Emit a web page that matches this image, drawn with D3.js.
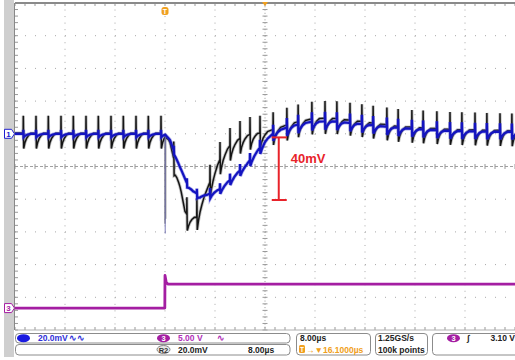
<!DOCTYPE html>
<html>
<head>
<meta charset="utf-8">
<script src="https://cdn.jsdelivr.net/npm/d3@7"></script>
<style>
  body { margin: 0; background: #fff; }
  svg { display: block; }
  text { font-family: "Liberation Sans", Arial, sans-serif; }
</style>
</head>
<body>
<div id="chart"></div>
<script>
// horizontal: 8 us/div, 10 div, trigger (t = 0) two div left of centre
const timeDomain = [-24, 56];
const timePerDiv = 8;
const divDomain = [-5, 5];
// channel settings
const ch1PerDiv = 20;     // mV/div
const ch1Offset = 1;      // div above centre
const ch3PerDiv = 5;      // V/div
const ch3Offset = -4.33;  // div

// converter switching spikes (us)
const spikeTimes = [-22.67, -20.64, -18.67, -16.64, -14.67, -12.64, -10.67, -8.64, -6.67, -4.64, -2.67, -0.64,
  1.4, 3.5, 5.1, 7.2, 8.8, 10.4, 12.0, 13.6, 15.2, 17.3, 19.5, 21.3, 23.5, 25.6, 27.5, 29.6, 31.5, 33.3,
  35.5, 37.3, 39.5, 41.3, 43.5, 45.6, 47.5, 49.6, 51.5, 53.6, 55.5];

// mean output voltage, channel 1 (us, mV)
const ch1Envelope = [[-24, 0], [0, 0], [0.8, -3.8], [2.4, -20.3], [3.5, -30.1], [4.5, -35], [5.6, -38],
  [6.7, -37.4], [8.8, -33.8], [10.9, -26.4], [13.1, -18.5], [14.9, -9.9], [16.0, -4.4], [17.6, 1.2],
  [20, 4.5], [23.2, 7.2], [26.4, 7.8], [31.2, 6], [37.6, 3.5], [45.6, 1.7], [56, 1.1]];
// mean output voltage, reference R2 (us, mV)
const r2Envelope = [[-24, 0], [0, 0], [0.8, -5.6], [1.6, -19], [2.4, -32], [3.2, -48], [3.7, -51],
  [5.0, -51.5], [5.6, -45], [7.2, -30], [8.8, -16], [10.4, -7.5], [12, -3.2], [13.6, -0.7], [16, 0.5],
  [18.4, 3.5], [20.8, 6.5], [24, 9], [27.2, 9], [31.2, 7.2], [37.6, 4], [45.6, 2.3], [56, 1.4]];

// ripple shape after each switching spike (us after spike, mV)
const ch1Ripple = [[0, 4], [0.05, -3.5], [0.3, -2], [0.7, -0.7], [1.2, 0]];
const r2Ripple = [[0, 11], [0.06, -9], [0.25, -5.5], [0.5, -3], [0.8, -1.2], [1.2, 0.3], [1.9, 0.5]];
// ripple size over time (us, gain)
const ch1RippleGain = [[-24, 0.6], [0, 0.6], [12, 1.0], [20, 1.5], [56, 1.3]];
const r2RippleGain = [[-24, 1], [56, 1]];

// load-step glitches at trigger (us, mV)
const ch1Glitch = [[0.03, -61]];
const r2Glitch = [[0.0, -55], [0.12, -52]];

// channel 3, load step (us, V)
const ch3Trace = [[-24, 0], [-0.03, 0], [0, 5.0], [0.2, 3.9], [0.5, 3.67], [56, 3.67]];

// 40 mV marker (us, mV)
const markT = 18.2;
const markRange = [-2.2, -40.5];
const markLabel = "40mV";

// readouts
const ch1Label = "20.0mV", ch3Label = "5.00 V", refLabel = "20.0mV", refTime = "8.00µs";
const hLabel = "8.00µs", delayLabel = "→▼16.1000µs";
const rateLabel = "1.25GS/s", pointsLabel = "100k points";
const trigLabel = "3.10 V";

const W = 515, H = 360;
const pLeft = 15, pRight = 515, pTop = 3, pBottom = 330;

const svg = d3.select("#chart").append("svg").attr("width", W).attr("height", H);
svg.append("rect").attr("width", W).attr("height", H).attr("fill", "#fff");

const x = d3.scaleLinear().domain(timeDomain).range([pLeft, pRight]);
const yDiv = d3.scaleLinear().domain(divDomain).range([pBottom, pTop]);
const y1 = d3.scaleLinear()
  .domain(divDomain.map(d => (d - ch1Offset) * ch1PerDiv)).range([pBottom, pTop]);
const y3 = d3.scaleLinear()
  .domain(divDomain.map(d => (d - ch3Offset) * ch3PerDiv)).range([pBottom, pTop]);

// left grey strip
svg.append("rect").attr("x", 4).attr("y", 0).attr("width", 10).attr("height", 357).attr("fill", "#cfcfcf");

// graticule
const grid = svg.append("g");
const centreT = (timeDomain[0] + timeDomain[1]) / 2;
const majorT = d3.range(timeDomain[0] + timePerDiv, timeDomain[1], timePerDiv);
const majorD = d3.range(divDomain[0] + 1, divDomain[1]);
const minorT = d3.range(timeDomain[0], timeDomain[1] + 0.01, timePerDiv / 5);
const minorD = d3.range(divDomain[0], divDomain[1] + 0.01, 0.2);

grid.selectAll(".vg").data(majorT.filter(t => t !== centreT)).join("line")
  .attr("x1", d => x(d)).attr("x2", d => x(d)).attr("y1", pTop).attr("y2", pBottom)
  .attr("stroke", "#a8a8a8").attr("stroke-width", 1)
  .attr("stroke-dasharray", `1,${(pBottom - pTop) / 50 - 1}`);
grid.selectAll(".hg").data(majorD.filter(d => d !== 0)).join("line")
  .attr("y1", d => yDiv(d)).attr("y2", d => yDiv(d)).attr("x1", pLeft).attr("x2", pRight)
  .attr("stroke", "#a8a8a8").attr("stroke-width", 1)
  .attr("stroke-dasharray", "1,9");
// centre cross
grid.append("line").attr("x1", x(centreT)).attr("x2", x(centreT)).attr("y1", pTop).attr("y2", pBottom)
  .attr("stroke", "#9a9a9a").attr("stroke-dasharray", "1,2.27");
grid.append("line").attr("y1", yDiv(0)).attr("y2", yDiv(0)).attr("x1", pLeft).attr("x2", pRight)
  .attr("stroke", "#a0a0a0").attr("stroke-dasharray", "3,2");
grid.selectAll(".ct").data(minorD).join("line")
  .attr("x1", x(centreT) - 2.5).attr("x2", x(centreT) + 2.5)
  .attr("y1", d => yDiv(d)).attr("y2", d => yDiv(d)).attr("stroke", "#999");
grid.selectAll(".ch").data(minorT).join("line")
  .attr("y1", yDiv(0) - 2.5).attr("y2", yDiv(0) + 2.5)
  .attr("x1", d => x(d)).attr("x2", d => x(d)).attr("stroke", "#999");
// border ticks
grid.selectAll(".tt").data(minorT).join("line")
  .attr("x1", d => x(d)).attr("x2", d => x(d)).attr("y1", pTop).attr("y2", pTop + 3).attr("stroke", "#999");
grid.selectAll(".bt").data(minorT).join("line")
  .attr("x1", d => x(d)).attr("x2", d => x(d)).attr("y1", pBottom - 3).attr("y2", pBottom).attr("stroke", "#999");
grid.selectAll(".lt").data(minorD).join("line")
  .attr("x1", pLeft).attr("x2", pLeft + 3).attr("y1", d => yDiv(d)).attr("y2", d => yDiv(d)).attr("stroke", "#999");
grid.append("line").attr("x1", pLeft).attr("x2", pRight).attr("y1", pTop).attr("y2", pTop)
  .attr("stroke", "#8a8a8a").attr("stroke-width", 2);
grid.append("line").attr("x1", pLeft).attr("x2", pRight).attr("y1", pBottom).attr("y2", pBottom)
  .attr("stroke", "#b0b0b0").attr("stroke-width", 1);
grid.append("line").attr("x1", pLeft - 0.5).attr("x2", pLeft - 0.5).attr("y1", pTop).attr("y2", pBottom)
  .attr("stroke", "#888").attr("stroke-width", 1);

// traces
svg.append("clipPath").attr("id", "plot").append("rect")
  .attr("x", pLeft).attr("y", pTop).attr("width", pRight - pLeft).attr("height", pBottom - pTop);
const traces = svg.append("g").attr("clip-path", "url(#plot)");

const piecewise = pts => d3.scaleLinear().domain(pts.map(d => d[0])).range(pts.map(d => d[1])).clamp(true);

function buildTrace(env, ripple, gain) {
  const envAt = piecewise(env), ripAt = piecewise(ripple), gainAt = piecewise(gain);
  const rest = ripple[ripple.length - 1][1];
  const ts = env.map(d => d[0]);
  spikeTimes.forEach((s, i) => {
    const next = i < spikeTimes.length - 1 ? spikeTimes[i + 1] : timeDomain[1] + 5;
    ts.push(s - 0.02);
    ripple.forEach(r => { if (s + r[0] < next - 0.02) ts.push(s + r[0]); });
  });
  ts.sort(d3.ascending);
  return ts.map(t => {
    const i = d3.bisectRight(spikeTimes, t) - 1;
    const off = i < 0 ? rest : ripAt(t - spikeTimes[i]);
    return [t, envAt(t) + off * gainAt(t)];
  });
}

const line1 = d3.line().x(d => x(d[0])).y(d => y1(d[1]));
const line3 = d3.line().x(d => x(d[0])).y(d => y3(d[1]));

const r2Data = buildTrace(r2Envelope, r2Ripple, r2RippleGain);
const ch1Data = buildTrace(ch1Envelope, ch1Ripple, ch1RippleGain);

// reference R2 (black)
traces.selectAll(".r2g").data(r2Glitch).join("line")
  .attr("x1", d => x(d[0])).attr("x2", d => x(d[0])).attr("y1", y1(0)).attr("y2", d => y1(d[1]))
  .attr("stroke", "#555").attr("stroke-width", 1);
traces.append("path").datum(r2Data).attr("d", line1).attr("fill", "none")
  .attr("stroke", "#777").attr("stroke-opacity", 0.45).attr("stroke-width", 3.2);
traces.append("path").datum(r2Data).attr("d", line1).attr("fill", "none")
  .attr("stroke", "#151515").attr("stroke-width", 1.5);

// channel 1 (blue)
traces.selectAll(".c1g").data(ch1Glitch).join("line")
  .attr("x1", d => x(d[0])).attr("x2", d => x(d[0])).attr("y1", y1(0)).attr("y2", d => y1(d[1]))
  .attr("stroke", "#7a7ab8").attr("stroke-width", 1);
traces.append("path").datum(ch1Data).attr("d", line1).attr("fill", "none")
  .attr("stroke", "#5050d8").attr("stroke-opacity", 0.45).attr("stroke-width", 3.6);
traces.append("path").datum(ch1Data).attr("d", line1).attr("fill", "none")
  .attr("stroke", "#1414c0").attr("stroke-width", 2.2);

// channel 3 (purple)
traces.append("path").datum(ch3Trace).attr("d", line3).attr("fill", "none")
  .attr("stroke", "#a41ea2").attr("stroke-width", 2.8).attr("stroke-linejoin", "round");

// 40 mV marker
const red = "#e8232a";
const mk = svg.append("g").attr("stroke", red).attr("stroke-width", 2);
mk.append("line").attr("x1", x(markT)).attr("x2", x(markT))
  .attr("y1", y1(markRange[0])).attr("y2", y1(markRange[1]));
markRange.forEach(v => mk.append("line").attr("x1", x(markT) - 7).attr("x2", x(markT) + 8)
  .attr("y1", y1(v)).attr("y2", y1(v)));
svg.append("text").attr("x", x(markT) + 12).attr("y", y1((markRange[0] + markRange[1]) / 2) - 5.5)
  .attr("fill", red).attr("font-weight", "bold")
  .attr("font-size", 13).text(markLabel);

// trigger position marker and delay marker
const orange = "#f0a020";
svg.append("rect").attr("x", x(0) - 3.5).attr("y", 7).attr("width", 7).attr("height", 8).attr("rx", 2.5)
  .attr("fill", orange);
svg.append("text").attr("x", x(0)).attr("y", 13.5).attr("text-anchor", "middle").attr("fill", "#fff")
  .attr("font-size", 7).attr("font-weight", "bold").text("T");
svg.append("path").attr("d", `M${x(centreT) - 3},2 h6 l-3,4 z`).attr("fill", orange);

// channel markers on the left
function chMarker(yPos, label, color) {
  svg.append("path").attr("d", `M4.5,${yPos - 4.5} h7 l3,4.5 l-3,4.5 h-7 z`)
    .attr("fill", "#fff").attr("stroke", color).attr("stroke-width", 1);
  svg.append("text").attr("x", 8.5).attr("y", yPos + 3).attr("text-anchor", "middle")
    .attr("fill", color).attr("font-size", 8).attr("font-weight", "bold").text(label);
}
chMarker(y1(0), "1", "#2020d0");
chMarker(y3(0), "3", "#a41ea2");

// status bar
const sb = svg.append("g");
function box(x0, y0, w, h) {
  sb.append("rect").attr("x", x0).attr("y", y0).attr("width", w).attr("height", h).attr("rx", 3.5)
    .attr("fill", "#fff").attr("stroke", "#8c8c8c").attr("stroke-width", 1);
}
function badge(cx, cy, label, fill, color) {
  sb.append("ellipse").attr("cx", cx).attr("cy", cy).attr("rx", 6.5).attr("ry", 4).attr("fill", fill)
    .attr("stroke", fill === "#e6e6e6" ? "#888" : "none");
  sb.append("text").attr("x", cx).attr("y", cy + 3).attr("text-anchor", "middle").attr("fill", color)
    .attr("font-size", 7.5).attr("font-weight", "bold").text(label);
}
function txt(x0, y0, s, color, anchor) {
  sb.append("text").attr("x", x0).attr("y", y0).attr("fill", color).attr("font-size", 8.5)
    .attr("font-weight", "bold").attr("text-anchor", anchor || "start").text(s);
}
const r1 = 341, r2 = 352.5;
box(15.5, 333.5, 274.5, 9.5);
box(15.5, 344.5, 274.5, 10.5);
box(296.5, 333.5, 74, 21.5);
box(375.5, 333.5, 52, 21.5);
box(432.5, 333.5, 90, 21.5);
badge(23.5, 338.2, "1", "#1a1ae0", "#1a1ae0");
txt(38, r1, ch1Label, "#3030d8");
txt(69, r1, "∿∿", "#3030d8");
badge(163.5, 338.2, "3", "#a41ea2", "#fff");
txt(178, r1, ch3Label, "#b030b8");
txt(217, r1, "∿", "#b030b8");
badge(163.5, 349.5, "R2", "#e6e6e6", "#333");
txt(178, r2, refLabel, "#222");
txt(248, r2, refTime, "#222");
txt(300, r1, hLabel, "#222");
sb.append("rect").attr("x", 299).attr("y", 345).attr("width", 6).attr("height", 8).attr("rx", 1.5).attr("fill", orange);
sb.append("text").attr("x", 302).attr("y", 351.5).attr("text-anchor", "middle").attr("fill", "#fff")
  .attr("font-size", 6.5).attr("font-weight", "bold").text("T");
txt(306, r2, delayLabel, orange);
txt(378, r1, rateLabel, "#222");
txt(378, r2, pointsLabel, "#222");
badge(453.5, 338.2, "3", "#a41ea2", "#fff");
txt(467, r1, "∫", "#222");
txt(515, r1, trigLabel, "#222", "end");
</script>
</body>
</html>
